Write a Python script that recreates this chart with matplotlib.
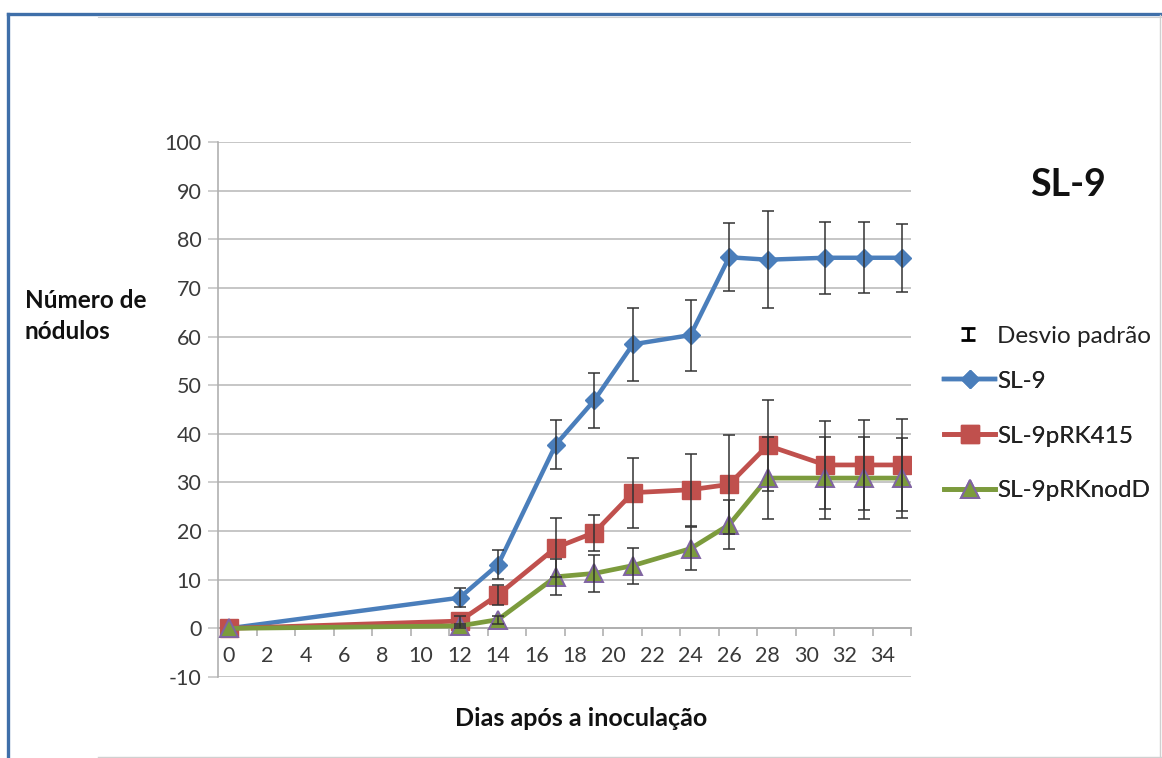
import matplotlib
matplotlib.use("Agg")
import matplotlib.pyplot as plt
from matplotlib.lines import Line2D
from matplotlib.path import Path
import numpy as np

# ---- data ----
days = [0, 12, 14, 17, 19, 21, 24, 26, 28, 31, 33, 35]
sl9 = [0, 6.3, 13.1, 37.8, 46.9, 58.4, 60.3, 76.3, 75.8, 76.2, 76.2, 76.2]
sl9_err = [0, 2.0, 3.0, 5.0, 5.7, 7.5, 7.3, 7.0, 10.0, 7.4, 7.3, 7.0]
prk415 = [0, 1.5, 6.9, 16.6, 19.7, 27.9, 28.5, 29.6, 37.6, 33.6, 33.6, 33.6]
prk415_err = [0, 1.0, 2.0, 6.0, 3.7, 7.2, 7.4, 10.2, 9.3, 9.0, 9.2, 9.4]
nodd = [0, 0.5, 1.8, 10.6, 11.3, 12.9, 16.4, 21.3, 30.9, 30.9, 30.9, 30.9]
nodd_err = [0, 0.5, 0.8, 3.7, 3.8, 3.7, 4.5, 5.0, 8.5, 8.5, 8.4, 8.3]

series_names = ["SL-9", "SL-9pRK415", "SL-9pRKnodD"]
xtick_labels = [str(v) for v in range(0, 35, 2)]
yticks = list(range(-10, 101, 10))
title = "SL-9"
ylabel = "Número de\nnódulos"
xlabel = "Dias após a inoculação"
err_label = "Desvio padrão"

plt.rcParams['font.family'] = ['Lato', 'DejaVu Sans']
plt.rcParams['axes.unicode_minus'] = False

W, H = 1162, 758
fig = plt.figure(figsize=(W / 100, H / 100), dpi=100)
fig.patch.set_facecolor('white')

ax = fig.add_axes([218 / W, 1 - 677 / H, (911 - 218) / W, (677 - 142) / H])
ax.set_xlim(-0.55, 35.45)
ax.set_ylim(-10, 100)

grid_c = '#c6c6c6'
ax.set_yticks(yticks)
ax.yaxis.grid(True, color=grid_c, lw=1.4, zorder=0)
ax.set_axisbelow(True)
ax.tick_params(axis='y', length=7, width=1.2, color=grid_c, pad=5,
               labelsize=15.5, labelcolor='#3a3a3a')

for s in ['top', 'right']:
    ax.spines[s].set_visible(False)
ax.spines['left'].set_color('#b0b0b0')
ax.spines['left'].set_linewidth(1.2)
ax.spines['bottom'].set_position(('data', 0))
ax.spines['bottom'].set_color('#b0b0b0')
ax.spines['bottom'].set_linewidth(1.4)

ax.set_xticks(range(0, 35, 2))
ax.set_xticklabels(xtick_labels)
ax.set_xticks(np.arange(1.45, 35.5, 2.0), minor=True)
ax.tick_params(axis='x', which='major', length=0, pad=13,
               labelsize=15.5, labelcolor='#3a3a3a')
ax.tick_params(axis='x', which='minor', length=6, width=1.2, color='#b0b0b0',
               direction='out')

blue = '#4a7ebb'
red = '#c0504d'
green = '#7c9b3d'
purple = '#8064a2'

ax.plot(days, sl9, color=blue, lw=3.2, marker='D', ms=9.5, mfc=blue, mec=blue,
        zorder=3, label=series_names[0])
ax.plot(days, prk415, color=red, lw=3.4, marker='s', ms=13, mfc=red, mec=red,
        zorder=4, label=series_names[1])
ax.plot(days, nodd, color=green, lw=3.4, marker='^', ms=12.5, mfc=green,
        mec=purple, mew=1.4, zorder=5, label=series_names[2])

for vals, errs in [(sl9, sl9_err), (prk415, prk415_err), (nodd, nodd_err)]:
    ax.errorbar(days, vals, yerr=errs, fmt='none', ecolor='#333333',
                elinewidth=1.1, capsize=4, capthick=1.1, errorevery=(1, 1),
                zorder=6)

# legends
handles = ax.get_legend_handles_labels()
leg = fig.legend(handles[0], handles[1], loc='center left',
                 bbox_to_anchor=(944 / W, 1 - 436 / H), frameon=False,
                 fontsize=17.5, handlelength=2.1, handletextpad=0.1,
                 labelspacing=1.38, borderpad=0, borderaxespad=0)
for t in leg.get_texts():
    t.set_color('#222222')

ibeam = Path([(-0.5, 0.4), (0.5, 0.4), (0, 0.4), (0, -0.4), (-0.5, -0.4), (0.5, -0.4)],
             [Path.MOVETO, Path.LINETO, Path.MOVETO, Path.LINETO, Path.MOVETO, Path.LINETO])
eh = Line2D([], [], ls='none', marker=ibeam, ms=10.5, mfc='none', mec='black', mew=2.0)
leg2 = fig.legend([eh], [err_label], loc='center left',
                  bbox_to_anchor=(942 / W, 1 - 336 / H), frameon=False,
                  fontsize=17.5, handlelength=2.1, handletextpad=0.15,
                  borderpad=0, borderaxespad=0)
for t in leg2.get_texts():
    t.set_color('#222222')
fig.add_artist(leg)

# texts
fig.text(1068 / W, 1 - 185 / H, title, ha='center', va='center',
         fontsize=27, fontweight='bold', color='#111111')
fig.text(25 / W, 1 - 316 / H, ylabel, ha='left', va='center',
         fontsize=17.5, fontweight='bold', color='#111111', linespacing=1.45)
fig.text(581 / W, 1 - 718 / H, xlabel, ha='center', va='center',
         fontsize=18, fontweight='bold', color='#111111')

# outer frame
fcol = '#3f6fa9'
fig.add_artist(Line2D([8 / W, 1], [1 - 14 / H, 1 - 14 / H], color=fcol, lw=2.4,
                      transform=fig.transFigure))
fig.add_artist(Line2D([8 / W, 8 / W], [0, 1 - 14 / H], color=fcol, lw=2.4,
                      transform=fig.transFigure))
gcol = '#d0d0d0'
fig.add_artist(Line2D([98 / W, 1], [1 - 16.5 / H, 1 - 16.5 / H], color=gcol, lw=0.8,
                      transform=fig.transFigure))
fig.add_artist(Line2D([1160 / W, 1160 / W], [0, 1 - 15 / H], color=gcol, lw=1.0,
                      transform=fig.transFigure))
fig.add_artist(Line2D([98 / W, 1], [0.8 / H, 0.8 / H], color=gcol, lw=1.0,
                      transform=fig.transFigure))

fig.savefig('out.png', dpi=100, facecolor='white')
